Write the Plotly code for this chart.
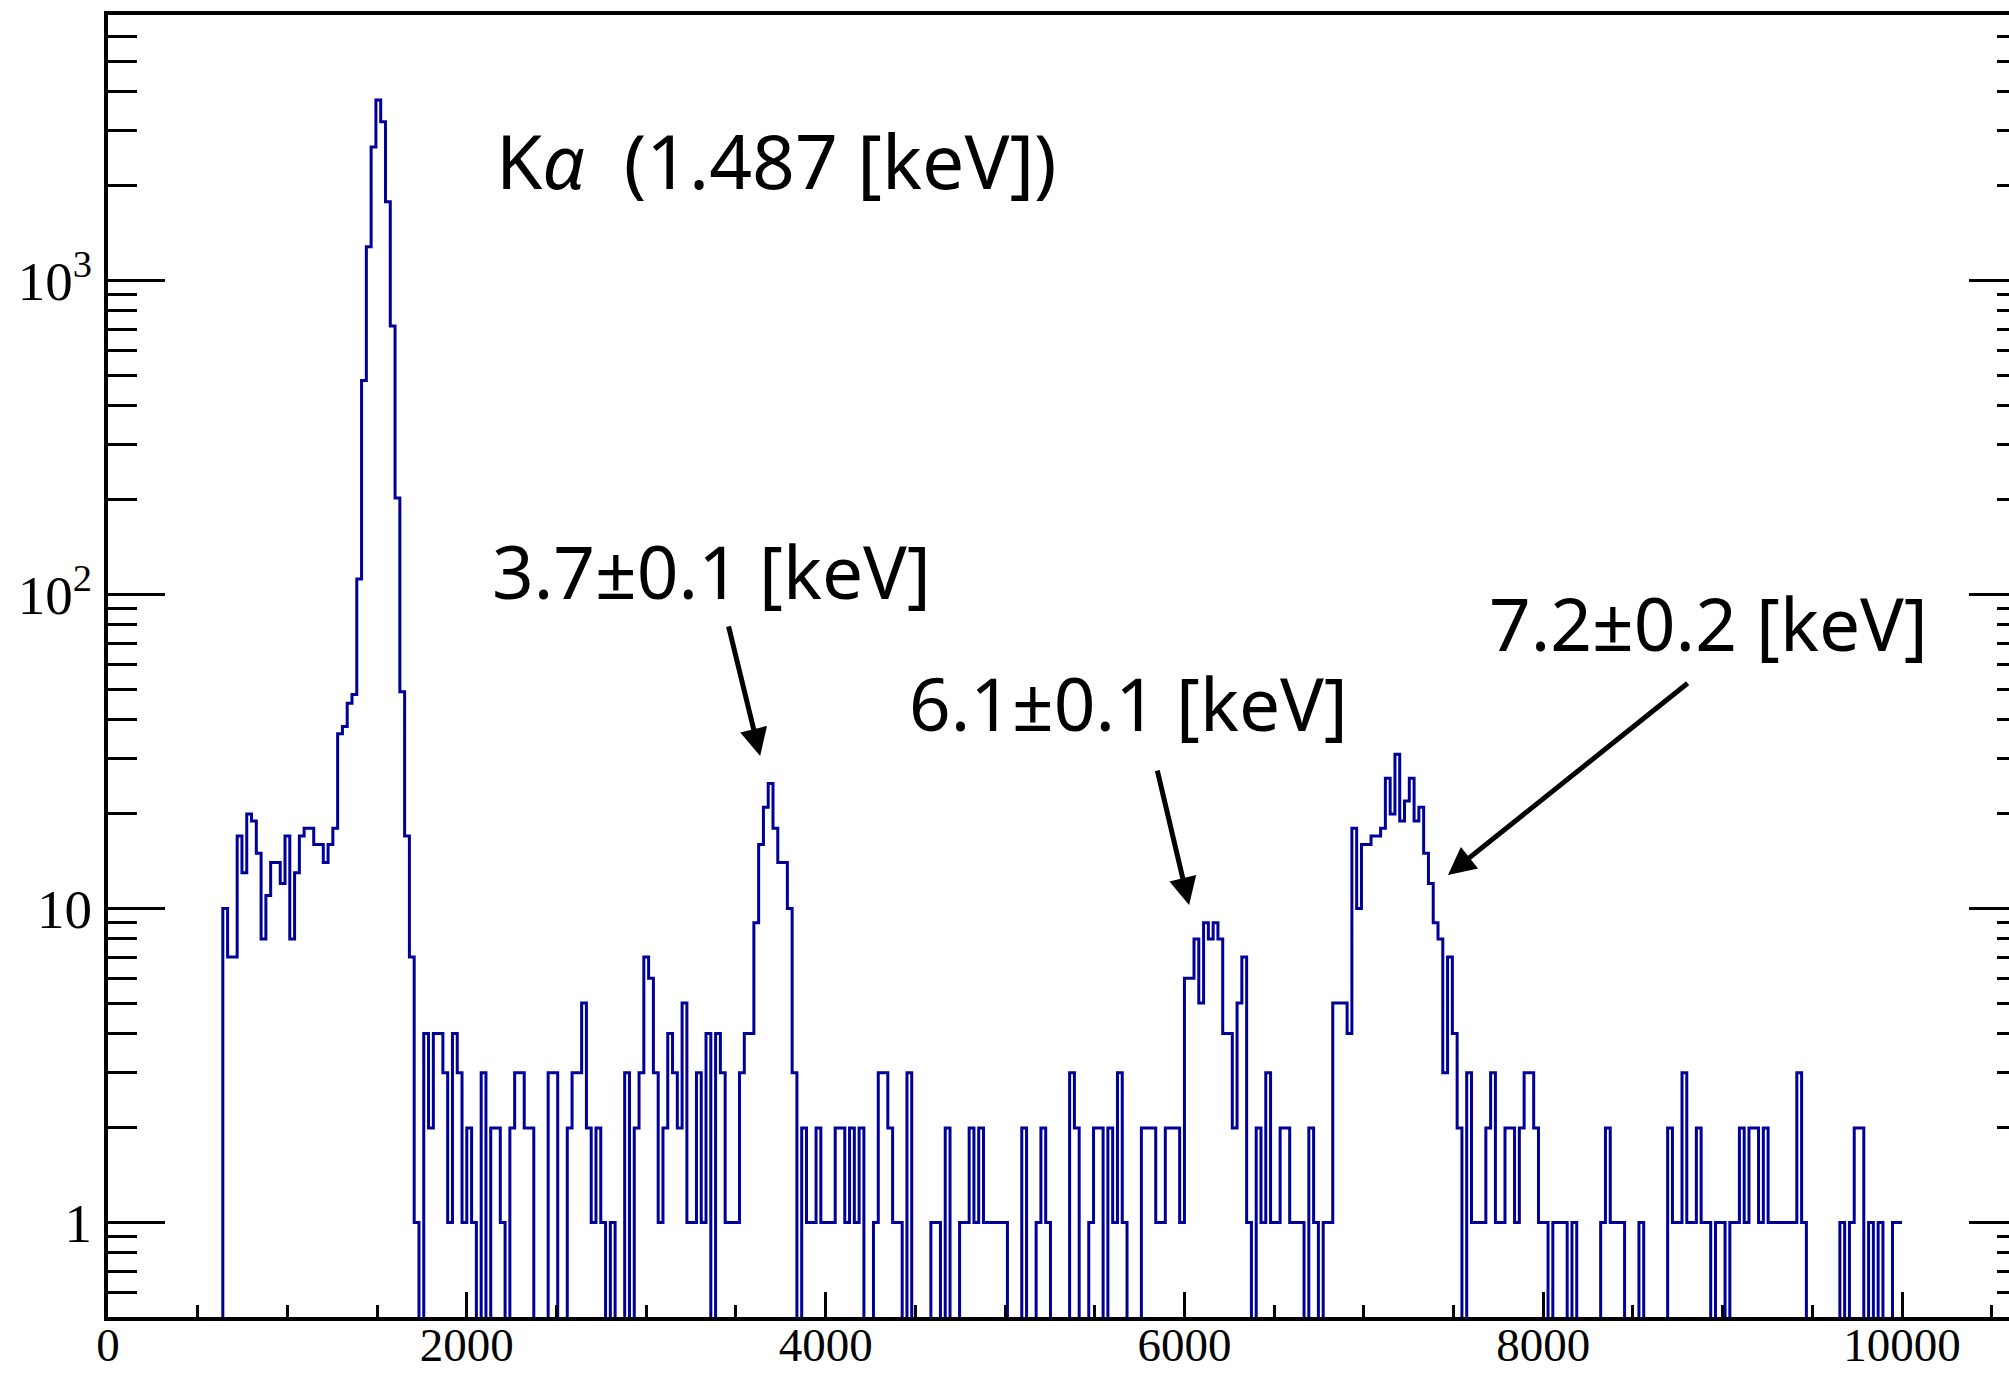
import numpy as np
import plotly.graph_objects as go

# ---- spectrum: counts per energy bin (eV) ----
bin_width = 10000 / 375          # eV per bin
first_bin = 24                   # index of the first filled bin

counts_ka = [10, 7, 7, 17, 13, 20, 19, 15, 8, 11, 14, 14, 12, 17, 8, 13, 17, 18, 18, 16,
             16, 14, 16, 18, 36, 38, 45, 48, 112, 480, 1280, 2660, 3760, 3200, 1780, 716,
             203, 49, 17, 7, 1, 0]                                   # bins 24-65
counts_2_3kev = [4, 2, 4, 4, 3, 1, 4, 3, 1, 2, 1, 0, 3, 0, 2, 2, 1, 0, 2, 3, 3, 2, 2, 0,
                 0, 0, 3, 3, 0, 0, 2, 3, 3, 5, 2, 1, 2, 1, 0, 1, 0, 0, 3, 0, 2, 3, 7, 6]  # bins 66-113
counts_3_4kev = [3, 1, 2, 4, 3, 2, 5, 1, 1, 3, 1, 4, 0, 4, 3, 1, 1, 1, 3, 4, 4, 9, 16, 21,
                 25, 18, 14, 14, 10, 3, 0, 2, 1, 1, 2, 1, 1, 1]       # bins 114-151
counts_4_5kev = [2, 2, 1, 2, 1, 2, 0, 0, 1, 3, 3, 2, 1, 1, 0, 3, 0, 0, 0, 0, 1, 1, 0, 2,
                 0, 0, 1, 1, 2, 1, 2, 1, 1, 1, 1, 1, 0]              # bins 152-188
counts_5_6kev = [0, 0, 2, 0, 0, 1, 2, 1, 0, 0, 0, 0, 3, 2, 0, 0, 1, 2, 2, 0, 2, 1, 3, 1,
                 0, 0, 0, 2, 2, 2, 1, 1, 2, 2, 2, 1, 6, 6, 8, 5]      # bins 189-228
counts_6_7kev = [9, 8, 9, 8, 4, 4, 2, 5, 7, 1, 0, 2, 1, 3, 1, 1, 2, 2, 1, 1, 1, 0, 2, 1,
                 0, 1, 1, 5, 5, 5, 4, 18, 10, 16, 16, 17]             # bins 229-264
counts_7_8kev = [17, 18, 26, 20, 31, 19, 22, 26, 19, 21, 15, 12, 9, 8, 3, 7, 4, 2, 0, 3,
                 1, 1, 1, 2, 3, 1, 1, 2, 2, 1, 2, 3, 3, 2, 1, 1, 0, 1]  # bins 265-302
counts_8_10kev = [1, 1, 0, 1, 0, 0, 0, 0, 0, 1, 2, 1, 1, 1, 0, 0, 0, 1, 0, 0, 0, 0, 0, 2,
                  1, 1, 3, 1, 1, 2, 1, 1, 0, 1, 1, 0, 1, 1, 2, 1, 2, 2, 1, 2, 1, 1, 1, 1,
                  1, 1, 3, 1, 0, 0, 0, 0, 0, 0, 0, 1, 0, 1, 2, 2, 0, 1, 0, 1, 0, 0, 1, 1]  # bins 303-374

counts = np.array(counts_ka + counts_2_3kev + counts_3_4kev + counts_4_5kev
                  + counts_5_6kev + counts_6_7kev + counts_7_8kev + counts_8_10kev, dtype=float)

# axis settings
x_range = [0, 10596]
y_range = [np.log10(0.5), 3.8455]
x_major = [0, 2000, 4000, 6000, 8000, 10000]
y_major = [1, 10, 100, 1000]
y_major_text = ["1", "10", "10<sup>2</sup>", "10<sup>3</sup>"]
y_minor = [m * 10.0 ** e for e in range(-1, 4) for m in range(2, 10) if 0.5 <= m * 10.0 ** e <= 7000]

# peak labels: (text, x, y, font size) and arrows: (tail x, tail y, head x, head y)
labels = [
    ("K<i>α</i>\u00a0 (1.487 [keV])", 2150, 10 ** 3.385, 75),
    ("3.7±0.1 [keV]", 2130, 10 ** 2.075, 73),
    ("6.1±0.1 [keV]", 4455, 10 ** 1.657, 73),
    ("7.2±0.2 [keV]", 7688, 10 ** 1.912, 73),
]
arrows = [
    (3457, 10 ** 1.903, 3635, 10 ** 1.486),
    (5847, 10 ** 1.444, 6026, 10 ** 1.011),
    (8813, 10 ** 1.721, 7469, 10 ** 1.107),
]

# histogram outline (ROOT style): empty bins run down below the frame
edges = (first_bin + np.arange(len(counts) + 1)) * bin_width
floor = 0.1
y_draw = np.where(counts > 0, counts, floor)
xs = np.concatenate([[edges[0]], edges])
ys = np.concatenate([[floor], y_draw, [y_draw[-1]]])

fig = go.Figure()
fig.add_trace(go.Scatter(
    x=xs, y=ys, mode="lines",
    line=dict(color="#000099", width=3, shape="hv"),
    hoverinfo="skip", showlegend=False,
))
# carrier for the right-hand tick marks
fig.add_trace(go.Scatter(x=[None], y=[None], yaxis="y2", mode="lines",
                         hoverinfo="skip", showlegend=False))

serif = "Liberation Serif"
sans = "Noto Sans"

fig.update_layout(
    width=2009, height=1375,
    margin=dict(l=108, r=0, t=15, b=58, autoexpand=False),
    paper_bgcolor="white", plot_bgcolor="white",
    xaxis=dict(
        range=x_range, showgrid=False, zeroline=False, automargin=False,
        showline=True, linecolor="black", linewidth=4, mirror=True,
        ticks="inside", ticklen=25, tickwidth=3, tickcolor="black",
        tickvals=x_major, ticktext=[str(v) for v in x_major],
        tickfont=dict(family=serif, size=47, color="black"),
        ticklabelstandoff=-16,
        minor=dict(dtick=500, tick0=0, ticks="inside", ticklen=12,
                   tickwidth=3, tickcolor="black"),
    ),
    yaxis=dict(
        type="log", range=y_range, showgrid=False, zeroline=False, automargin=False,
        showline=True, linecolor="black", linewidth=4, mirror=False,
        ticks="inside", ticklen=57, tickwidth=3, tickcolor="black",
        tickvals=y_major, ticktext=y_major_text,
        tickfont=dict(family=serif, size=55, color="black"),
        ticklabelstandoff=1,
        minor=dict(tickvals=y_minor, ticks="inside", ticklen=29,
                   tickwidth=3, tickcolor="black"),
    ),
    yaxis2=dict(
        type="log", range=y_range, overlaying="y", side="right", automargin=False,
        showgrid=False, zeroline=False, showline=False, showticklabels=False,
        ticks="inside", ticklen=40, tickwidth=3, tickcolor="black",
        tickvals=y_major,
        minor=dict(tickvals=y_minor, ticks="inside", ticklen=12,
                   tickwidth=3, tickcolor="black"),
    ),
)

for text, x, y, size in labels:
    fig.add_annotation(x=x, y=np.log10(y), xref="x", yref="y", text=text,
                       showarrow=False, xanchor="left", yanchor="middle",
                       font=dict(family=sans, size=size, color="black"))

for tx, ty, hx, hy in arrows:
    fig.add_annotation(x=hx, y=np.log10(hy), ax=tx, ay=np.log10(ty),
                       xref="x", yref="y", axref="x", ayref="y", text="",
                       showarrow=True, arrowhead=2, arrowsize=1.1,
                       arrowwidth=5, arrowcolor="black")

fig.write_html("out.html")
